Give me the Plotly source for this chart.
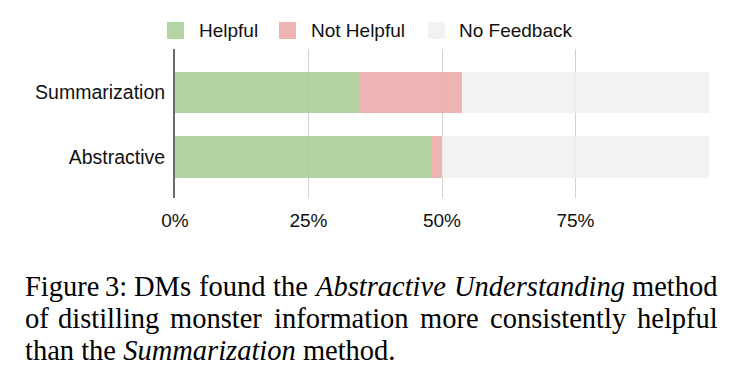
import plotly.graph_objects as go

# ---------------- data ----------------
categories = ["Summarization", "Abstractive"]
series_names = ["Helpful", "Not Helpful", "No Feedback"]
helpful = [34.6, 48.1]
not_helpful = [19.2, 1.9]
no_feedback = [46.2, 50.0]
series_values = [helpful, not_helpful, no_feedback]
series_colors = ["#b4d4a4", "#efb4b4", "#f2f2f2"]

tick_vals = [0, 25, 50, 75, 100]
tick_text = ["0%", "25%", "50%", "75%", ""]

caption_line1 = [("Figure", False), ("3:", False), ("DMs", False), ("found", False),
                 ("the", False), ("Abstractive", True), ("Understanding", True), ("method", False)]
caption_line2 = [("of", False), ("distilling", False), ("monster", False), ("information", False),
                 ("more", False), ("consistently", False), ("helpful", False)]
caption_line3 = "than the <i>Summarization</i> method."

# ---------------- geometry ----------------
OFF = 8  # browser body margin
W, H = 746 - OFF, 374 - OFF
PL, PR, PT, PB = 175 - OFF, 709 - OFF, 49 - OFF, 198 - OFF  # plot area in pixels (figure coords)
ALPHA = 0.85


def px_x(px):
    """reference-pixel x -> paper"""
    return (px - OFF - PL) / (PR - PL)


def px_y(py):
    """reference-pixel y -> paper"""
    return (PB - (py - OFF)) / (PB - PT)


def under_color(hexc, a=ALPHA):
    h = hexc.lstrip("#")
    rgb = [int(h[i:i + 2], 16) for i in (0, 2, 4)]
    c = [max(0, min(255, round((v - 255 * (1 - a)) / a))) for v in rgb]
    return "rgb(%d,%d,%d)" % tuple(c)


fig = go.Figure()
for name, vals, col in zip(series_names, series_values, series_colors):
    fig.add_trace(go.Bar(
        y=categories, x=vals, name=name, orientation="h",
        marker=dict(color=under_color(col), line=dict(width=0)),
        opacity=ALPHA, showlegend=False,
    ))

sans = "Liberation Sans, Arial, sans-serif"
serif = "Liberation Serif, Times New Roman, serif"

fig.update_layout(
    width=W, height=H,
    margin=dict(l=PL, r=W - PR, t=PT, b=H - PB, pad=0),
    paper_bgcolor="white", plot_bgcolor="white",
    barmode="stack", bargap=0.355,
    font=dict(family=sans, size=19, color="#111"),
    xaxis=dict(range=[0, 100], tickvals=tick_vals, ticktext=tick_text,
               showgrid=True, gridcolor="#d2d2d2", gridwidth=1,
               zeroline=False, showline=False, ticks="",
               ticklabelstandoff=9, tickfont=dict(size=19, family=sans, color="#111")),
    yaxis=dict(range=[1.64, -0.68], showgrid=False, zeroline=False,
               showline=True, linecolor="#6b6b6b", linewidth=2, ticks="",
               ticklabelstandoff=4, tickfont=dict(size=19.5, family=sans, color="#111")),
)

# ---------------- custom legend ----------------
legend_swatch_px = [167, 279, 428]
legend_text_px = [197, 309, 457]
for name, col, sx, tx in zip(series_names, series_colors, legend_swatch_px, legend_text_px):
    fig.add_shape(type="rect", xref="paper", yref="paper",
                  x0=px_x(sx), x1=px_x(sx + 17), y0=px_y(39), y1=px_y(22),
                  fillcolor=col, line=dict(width=0))
    fig.add_annotation(xref="paper", yref="paper", x=px_x(tx), y=px_y(31),
                       xanchor="left", yanchor="middle", showarrow=False,
                       text=name, font=dict(family=sans, size=19, color="#111"))

# ---------------- caption ----------------
ROMAN = {' ': 250, 'F': 556, 'i': 278, 'g': 500, 'u': 500, 'r': 333, 'e': 444, '3': 500,
         ':': 278, 'D': 722, 'M': 889, 's': 389, 'f': 333, 'o': 500, 'n': 500, 'd': 500,
         't': 278, 'h': 500, 'm': 778, 'l': 278, 'a': 444, 'c': 444, 'y': 500, 'p': 500,
         '.': 250}
ITAL = {'A': 611, 'b': 500, 's': 389, 't': 278, 'r': 389, 'a': 500, 'c': 444, 'i': 278,
        'v': 444, 'e': 444, 'U': 722, 'n': 500, 'd': 500, 'g': 500, 'S': 500, 'u': 500,
        'm': 722, 'z': 389, 'o': 500}
CAP_SIZE = 28.5
WFAC = 1.012
LEFT, RIGHT = 22.5, 719.5


def word_w(word, ital):
    tab = ITAL if ital else ROMAN
    return sum(tab.get(ch, 500) for ch in word) / 1000 * CAP_SIZE * WFAC


def justified(words, center_y):
    widths = [word_w(w, it) for w, it in words]
    gap = (RIGHT - LEFT - sum(widths)) / (len(words) - 1)
    x = LEFT
    n = len(words)
    for i, ((w, it), ww) in enumerate(zip(words, widths)):
        txt = "<i>%s</i>" % w if it else w
        if i == 0:
            ax, anchor = LEFT, "left"
        elif i == n - 1:
            ax, anchor = RIGHT, "right"
        else:
            ax, anchor = x + ww / 2, "center"
        fig.add_annotation(xref="paper", yref="paper", x=px_x(ax), y=px_y(center_y),
                           xanchor=anchor, yanchor="middle", showarrow=False, text=txt,
                           font=dict(family=serif, size=CAP_SIZE, color="#000"))
        x += ww + gap


justified(caption_line1, 286)
justified(caption_line2, 318)
fig.add_annotation(xref="paper", yref="paper", x=px_x(LEFT), y=px_y(350),
                   xanchor="left", yanchor="middle", showarrow=False, text=caption_line3,
                   font=dict(family=serif, size=CAP_SIZE, color="#000"))

fig.write_html("out.html")
